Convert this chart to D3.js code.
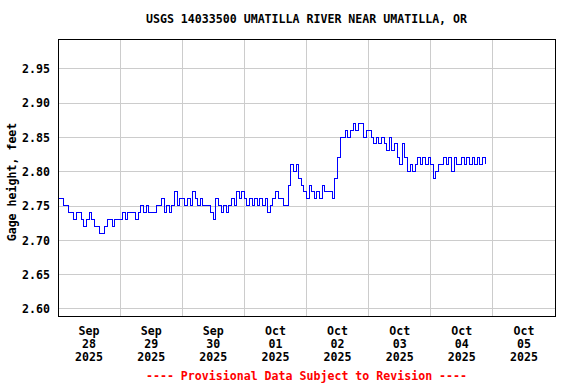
<!DOCTYPE html>
<html>
<head>
<meta charset="utf-8">
<script src="https://cdn.jsdelivr.net/npm/d3@7"></script>
<style>
  body { margin: 0; background: #fff; }
  text { font-family: "DejaVu Sans Mono", "Liberation Mono", monospace; font-weight: bold; font-size: 11.6px; }
</style>
</head>
<body>
<div id="chart"></div>
<script>
var margin = {top: 39, right: 21, bottom: 68, left: 58},
    width = 576 - margin.left - margin.right,
    height = 384 - margin.top - margin.bottom;

var titleText = "USGS 14033500 UMATILLA RIVER NEAR UMATILLA, OR";
var yLabel = "Gage height, feet";
var noteText = "---- Provisional Data Subject to Revision ----";

// hourly gage height, starting 2025-09-28 00:00
var sep28 = [2.76, 2.76, 2.75, 2.75, 2.74, 2.74, 2.73, 2.74, 2.74, 2.73, 2.72, 2.73,
             2.74, 2.73, 2.72, 2.72, 2.71, 2.71, 2.72, 2.73, 2.73, 2.72, 2.73, 2.73];
var sep29 = [2.73, 2.74, 2.73, 2.74, 2.74, 2.74, 2.73, 2.74, 2.75, 2.74, 2.75, 2.74,
             2.74, 2.74, 2.75, 2.75, 2.76, 2.74, 2.75, 2.74, 2.75, 2.77, 2.75, 2.76];
var sep30 = [2.76, 2.75, 2.76, 2.75, 2.77, 2.76, 2.75, 2.76, 2.75, 2.75, 2.75, 2.74,
             2.73, 2.76, 2.75, 2.74, 2.75, 2.74, 2.75, 2.76, 2.75, 2.77, 2.76, 2.77];
var oct01 = [2.76, 2.75, 2.76, 2.75, 2.76, 2.75, 2.76, 2.75, 2.76, 2.74, 2.75, 2.76,
             2.77, 2.76, 2.76, 2.75, 2.75, 2.78, 2.81, 2.80, 2.81, 2.79, 2.78, 2.77];
var oct02 = [2.76, 2.78, 2.77, 2.76, 2.77, 2.76, 2.78, 2.77, 2.77, 2.77, 2.76, 2.79,
             2.82, 2.85, 2.85, 2.86, 2.85, 2.86, 2.87, 2.86, 2.87, 2.87, 2.85, 2.86];
var oct03 = [2.86, 2.85, 2.84, 2.85, 2.84, 2.85, 2.84, 2.83, 2.85, 2.83, 2.84, 2.82,
             2.81, 2.84, 2.82, 2.80, 2.81, 2.80, 2.81, 2.82, 2.81, 2.82, 2.81, 2.82];
var oct04 = [2.81, 2.79, 2.80, 2.81, 2.81, 2.82, 2.81, 2.82, 2.80, 2.82, 2.81, 2.81,
             2.82, 2.81, 2.82, 2.81, 2.82, 2.81, 2.82, 2.81, 2.82, 2.81];

var yTicks = [2.60, 2.65, 2.70, 2.75, 2.80, 2.85, 2.90, 2.95];
var yDomain = [2.589, 2.993];

var startDate = new Date(2025, 8, 28);
var endDate = new Date(2025, 9, 6);
var gridDays = d3.timeDay.range(new Date(2025, 8, 29), endDate);
var labelDays = d3.timeDay.range(startDate, new Date(2025, 9, 6));

var values = [].concat(sep28, sep29, sep30, oct01, oct02, oct03, oct04);
var data = values.map(function(v, i) {
    return {date: d3.timeHour.offset(startDate, i), value: v};
});

var xScale = d3.scaleTime().domain([startDate, endDate]).range([0, width]);
var yScale = d3.scaleLinear().domain(yDomain).range([height, 0]);

var root = d3.select("#chart").append("svg")
    .attr("width", 576)
    .attr("height", 384);

root.append("text")
    .attr("x", margin.left + width / 2)
    .attr("y", 23)
    .attr("text-anchor", "middle")
    .text(titleText);

var svg = root.append("g")
    .attr("transform", "translate(" + margin.left + "," + margin.top + ")");

// horizontal grid + y labels
var yAxis = d3.axisLeft(yScale)
    .tickValues(yTicks)
    .tickSize(-width)
    .tickPadding(8)
    .tickFormat(d3.format(".2f"));
var yg = svg.append("g").call(yAxis);
yg.select(".domain").remove();
yg.selectAll("line").attr("stroke", "#cccccc").attr("shape-rendering", "crispEdges");
yg.selectAll("text").attr("fill", "#000").style("font-size", "11.6px").attr("dy", "0.36em");

// vertical grid at midnight
svg.append("g").selectAll("line")
    .data(gridDays)
    .enter().append("line")
    .attr("x1", function(d) { return xScale(d); })
    .attr("x2", function(d) { return xScale(d); })
    .attr("y1", 0)
    .attr("y2", height)
    .attr("stroke", "#cccccc")
    .attr("shape-rendering", "crispEdges");

// x labels at noon
var fmtMon = d3.timeFormat("%b"), fmtDay = d3.timeFormat("%d"), fmtYear = d3.timeFormat("%Y");
var xl = svg.append("g").selectAll("text")
    .data(labelDays)
    .enter().append("text")
    .attr("text-anchor", "middle")
    .attr("transform", function(d) {
        return "translate(" + xScale(d3.timeHour.offset(d, 12)) + "," + (height + 19) + ")";
    });
xl.append("tspan").attr("x", 0).attr("y", 0).text(fmtMon);
xl.append("tspan").attr("x", 0).attr("y", 13).text(fmtDay);
xl.append("tspan").attr("x", 0).attr("y", 26).text(fmtYear);

var line = d3.line()
    .x(function(d) { return xScale(d.date); })
    .y(function(d) { return yScale(d.value); })
    .curve(d3.curveStepAfter);

svg.append("path")
    .datum(data)
    .attr("fill", "none")
    .attr("stroke", "#0000ff")
    .attr("stroke-width", 1)
    .attr("shape-rendering", "crispEdges")
    .attr("d", line);

// frame
svg.append("rect")
    .attr("x", 0.5)
    .attr("y", 0.5)
    .attr("width", width)
    .attr("height", height)
    .attr("fill", "none")
    .attr("stroke", "#000")
    .attr("shape-rendering", "crispEdges");

root.append("text")
    .attr("transform", "translate(16,182) rotate(-90)")
    .attr("text-anchor", "middle")
    .text(yLabel);

root.append("text")
    .attr("x", margin.left + width / 2)
    .attr("y", 380)
    .attr("text-anchor", "middle")
    .attr("fill", "#ff0000")
    .text(noteText);
</script>
</body>
</html>
